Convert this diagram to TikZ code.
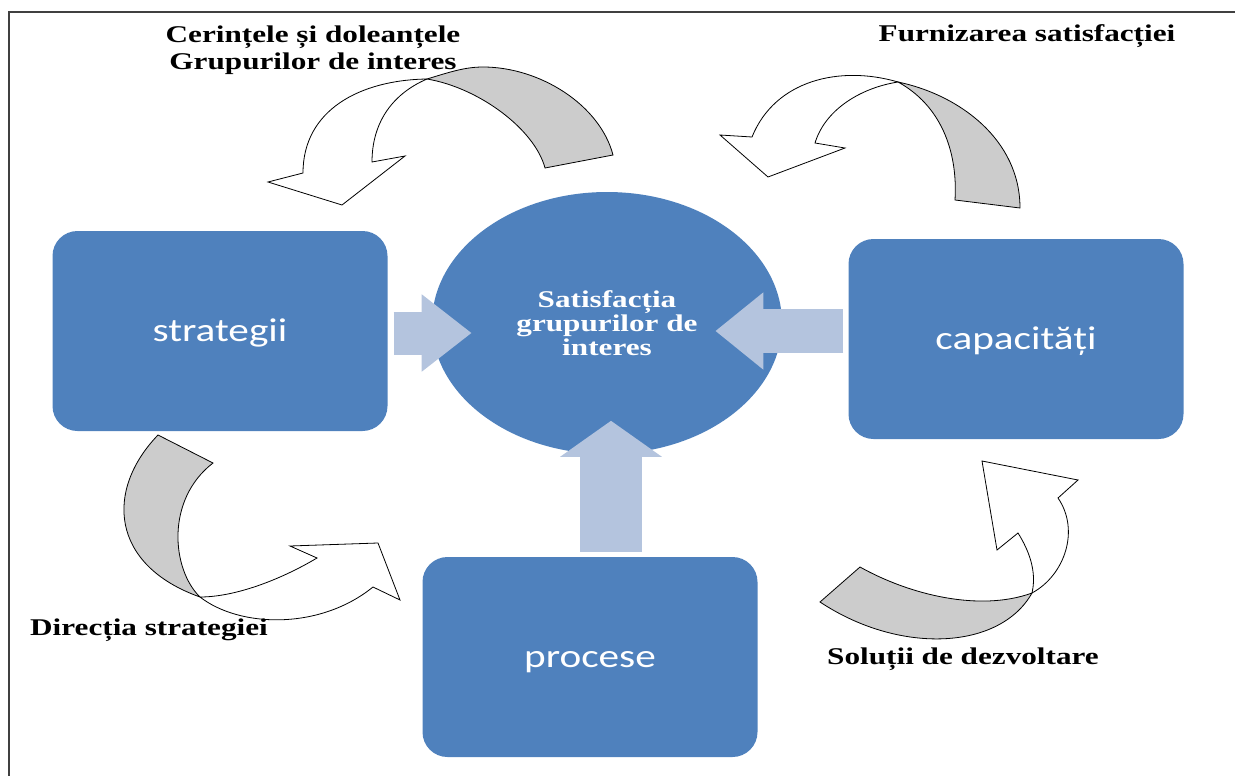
\documentclass[tikz,border=0pt]{standalone}
\usepackage{fontspec}
\usetikzlibrary{shapes.geometric,arrows.meta}
\newfontfamily\lblfont[FakeStretch=1.3]{Liberation Serif}
\newfontfamily\boxfont[FakeStretch=1.25]{Carlito}
\definecolor{boxblue}{RGB}{79,129,189}
\definecolor{arrblue}{RGB}{180,196,222}
\definecolor{ribgray}{RGB}{204,204,204}

\begin{document}
\begin{tikzpicture}[x=1pt,y=-1pt,
  bloc/.style={fill=boxblue, rounded corners=25pt, minimum width=335pt, minimum height=200pt, inner sep=0pt, text=white,
    text height=24pt, text depth=3pt, font=\boxfont\fontsize{33}{40}\selectfont},
  lbl/.style={font=\lblfont\bfseries\fontsize{24}{27}\selectfont, align=center, inner sep=0pt},
  gros/.style={line width=#1, color=arrblue},
  rib/.style={draw=black, line width=0.8pt, fill=#1}]
\useasboundingbox (0,0) rectangle (1235,776);
\draw[black!75, line width=2pt] (9,776) -- (9,12) -- (1235,12);

\node[bloc] at (220,331) (strat) {strategii};
\node[bloc] at (1016,339) (cap) {capacități};
\node[bloc] at (590,657) (proc) {procese};
\node[ellipse, fill=boxblue, minimum width=350pt, minimum height=262pt, inner sep=0pt, text=white, align=center,
  font=\lblfont\bfseries\fontsize{24}{24}\selectfont] at (607,323) (sat) {Satisfacția\\grupurilor de\\interes};

\draw[gros=43pt, -{Triangle[width=74pt,length=50pt]}] ([shift={(6,2)}]strat.east) -- ++(78,0);
\draw[gros=44pt, -{Triangle[width=74pt,length=48pt]}] ([shift={(-5,-8)}]cap.west) -- ++(-128,0);
\draw[gros=62pt, -{Triangle[width=100pt,length=36pt]}] ([shift={(21,-5)}]proc.north) -- ++(0,-131);

\filldraw[rib=white] (427,79) .. controls (360,80) and (303,110) .. (303,173) -- (268,182) -- (342,205) -- (405,156) -- (372,162) .. controls (372,125) and (390,95) .. (427,79) -- cycle;
\filldraw[rib=ribgray] (427,79) .. controls (450,72) and (465,67) .. (483,67) .. controls (540,67) and (600,105) .. (613,155) -- (545,168) .. controls (535,130) and (480,88) .. (427,79) -- cycle;

\filldraw[rib=white] (898,82) .. controls (840,65) and (775,80) .. (752,137) -- (720,135) -- (768,177) -- (845,148) -- (815,143) .. controls (825,110) and (860,88) .. (898,82) -- cycle;
\filldraw[rib=ribgray] (898,82) .. controls (960,95) and (1020,140) .. (1020,208) -- (955,200) .. controls (958,150) and (940,105) .. (898,82) -- cycle;

\filldraw[rib=ribgray] (158,435) .. controls (105,490) and (110,565) .. (200,597) .. controls (172,570) and (165,500) .. (213,463) -- cycle;
\filldraw[rib=white] (200,597) .. controls (240,628) and (320,630) .. (373,587) -- (400,600) -- (378,543) -- (290,546) -- (317,558) .. controls (280,580) and (235,597) .. (200,597) -- cycle;

\filldraw[rib=ribgray] (860,567) .. controls (910,595) and (980,612) .. (1032,593) .. controls (1000,650) and (900,655) .. (820,602) -- cycle;
\filldraw[rib=white] (1032,593) .. controls (1065,575) and (1080,530) .. (1058,498) -- (1078,480) -- (982,461) -- (997,550) -- (1018,533) .. controls (1035,560) and (1035,580) .. (1032,593) -- cycle;

\node[lbl] (cerinte) at (313,50) {Cerințele și doleanțele\\Grupurilor de interes};
\node[lbl] (furniz) at (1027,36) {Furnizarea satisfacției};
\node[lbl] (directia) at (149,630) {Direcția strategiei};
\node[lbl] (solutii) at (963,659) {Soluții de dezvoltare};
\end{tikzpicture}
\end{document}
